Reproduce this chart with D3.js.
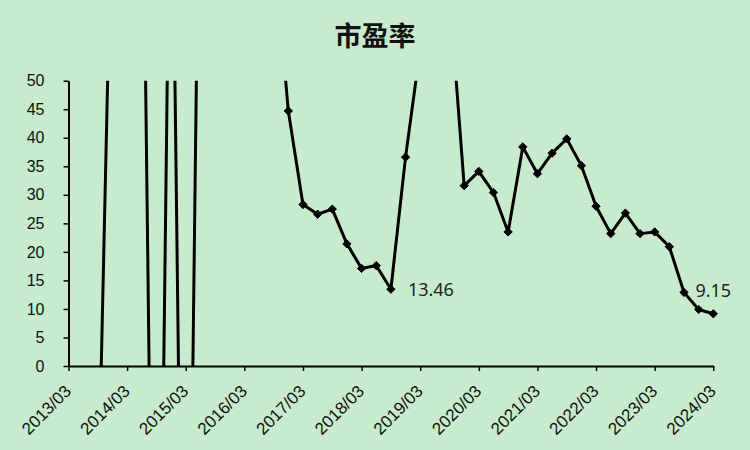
<!DOCTYPE html>
<html><head><meta charset="utf-8">
<script src="https://cdn.jsdelivr.net/npm/d3@7"></script>
<style>
html,body{margin:0;padding:0;background:#c7ebcc;}
svg{display:block;}
</style>
</head><body>
<svg id="chart" width="750" height="450"></svg>
<script>
const titleText = "市盈率";
const quarters = [
 "2013/03","2013/06","2013/09","2013/12",
 "2014/03","2014/06","2014/09","2014/12",
 "2015/03","2015/06","2015/09","2015/12",
 "2016/03","2016/06","2016/09","2016/12",
 "2017/03","2017/06","2017/09","2017/12",
 "2018/03","2018/06","2018/09","2018/12",
 "2019/03","2019/06","2019/09","2019/12",
 "2020/03","2020/06","2020/09","2020/12",
 "2021/03","2021/06","2021/09","2021/12",
 "2022/03","2022/06","2022/09","2022/12",
 "2023/03","2023/06","2023/09","2023/12",
 "2024/03"];
const peValues = [
 -40, -35, -27, 88,
 150, 105, -105, 105,
 -103, 108, 120, 130,
 110, 95, 74, 44.7,
 28.3, 26.6, 27.5, 21.4,
 17.1, 17.6, 13.46, 36.6,
 55.6, 60, 65.4, 31.6,
 34.1, 30.4, 23.5, 38.4,
 33.7, 37.3, 39.8, 35.1,
 28.0, 23.2, 26.8, 23.2,
 23.5, 20.9, 12.9, 9.9,
 9.15];
const xTickLabels = ["2013/03","2014/03","2015/03","2016/03","2017/03","2018/03","2019/03","2020/03","2021/03","2022/03","2023/03","2024/03"];
const yTicks = [0,5,10,15,20,25,30,35,40,45,50];
const labelledPoints = ["2018/09","2024/03"];

const data = quarters.map((q,i)=>({q, v: peValues[i]}));

const svg = d3.select("#chart");
const L = 68.5, R = 713.3, T = 80.7, B = 366;

const x = d3.scalePoint().domain(quarters).range([L, R]);
const y = d3.scaleLinear().domain([0, 50]).range([B, T]);

svg.append("rect").attr("width",750).attr("height",450).attr("fill","#c7ebcc");

svg.append("text")
  .attr("x", 375).attr("y", 34)
  .attr("text-anchor","middle").attr("dominant-baseline","central")
  .attr("font-family","'Noto Sans CJK SC', sans-serif")
  .attr("font-size", 27).attr("font-weight","bold")
  .attr("fill","#111")
  .text(titleText);

svg.append("clipPath").attr("id","plotclip")
  .append("rect").attr("x", L-10).attr("y", T).attr("width", R-L+20).attr("height", B-T);

// axes
const yAxis = d3.axisLeft(y).tickValues(yTicks).tickSize(5).tickSizeOuter(0).tickFormat(d3.format("d"));
const gy = svg.append("g").attr("transform",`translate(${L},0)`).call(yAxis);
gy.select(".domain").attr("stroke","#000").attr("stroke-width",2);
gy.selectAll(".tick line").attr("stroke","#000").attr("stroke-width",1.5);
gy.selectAll(".tick text").attr("x",-24).attr("font-family","'Liberation Sans', Arial, sans-serif")
  .attr("font-size",16).attr("fill","#111");

const xAxis = d3.axisBottom(x).tickValues(xTickLabels).tickSize(5).tickSizeOuter(0);
const gx = svg.append("g").attr("transform",`translate(0,${B})`).call(xAxis);
gx.select(".domain").attr("stroke","#000").attr("stroke-width",2);
gx.selectAll(".tick line").attr("stroke","#000").attr("stroke-width",1.5);
gx.selectAll(".tick text")
  .attr("font-family","'Liberation Sans', Arial, sans-serif")
  .attr("font-size",17).attr("fill","#111")
  .attr("text-anchor","end")
  .attr("x",0).attr("y",0).attr("dy","0.35em")
  .attr("transform","translate(-1,22) rotate(-45)");

// line
const plot = svg.append("g").attr("clip-path","url(#plotclip)");
const line = d3.line().x(d=>x(d.q)).y(d=>y(d.v));
plot.append("path").datum(data).attr("d", line)
  .attr("fill","none").attr("stroke","#000").attr("stroke-width",3).attr("stroke-linejoin","round");

const sym = d3.symbol().type(d3.symbolDiamond2).size(44);
plot.selectAll("path.mk").data(data).enter().append("path").attr("class","mk")
  .attr("d", sym)
  .attr("transform", d=>`translate(${x(d.q)},${y(d.v)})`)
  .attr("fill","#000").attr("stroke","#000").attr("stroke-width",1);

// data labels
const lbl = data.filter(d=>labelledPoints.includes(d.q));
svg.selectAll("text.dl").data(lbl).enter().append("text").attr("class","dl")
  .attr("x", (d,i)=> i===0 ? x(d.q)+17 : x(d.q))
  .attr("y", (d,i)=> i===0 ? y(d.v) : y(d.v)-24)
  .attr("text-anchor", (d,i)=> i===0 ? "start" : "middle")
  .attr("dominant-baseline","central")
  .attr("font-family","'Noto Sans', sans-serif")
  .attr("font-size",18).attr("fill","#222")
  .text(d=>d.v.toFixed(2));
</script>
</body></html>
